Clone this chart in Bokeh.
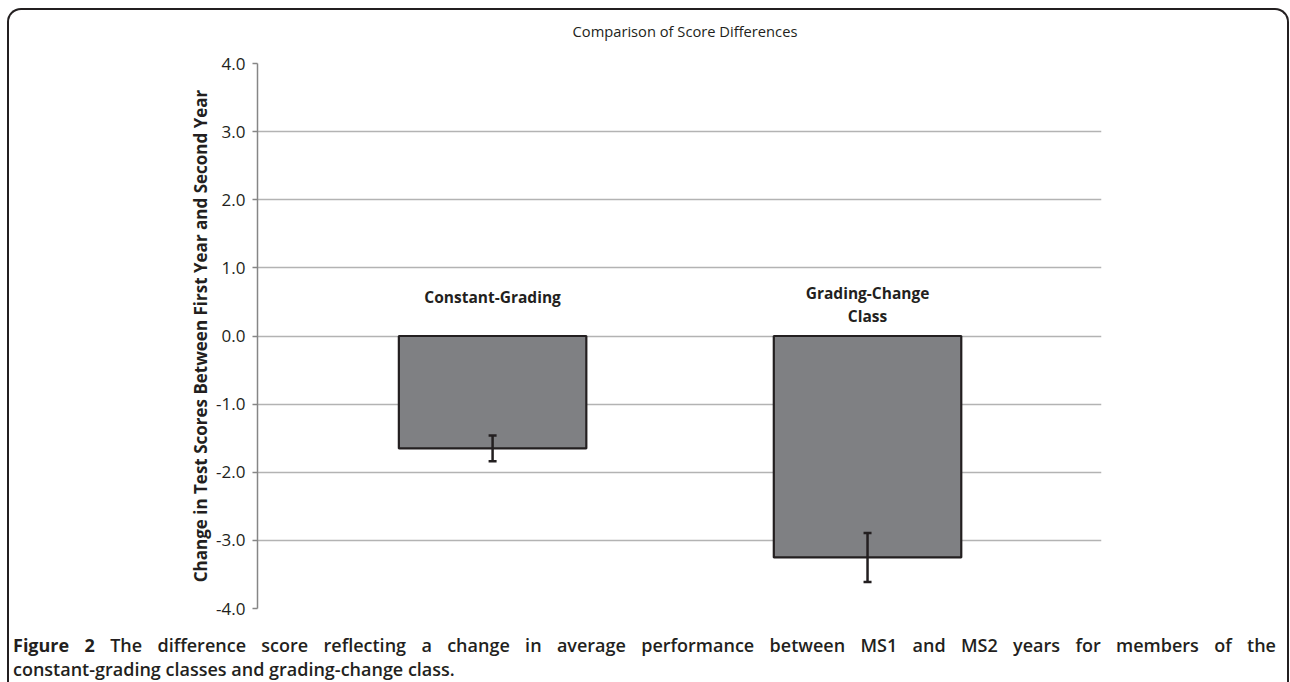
from bokeh.plotting import figure
from bokeh.models import (Range1d, FixedTicker, NumeralTickFormatter, Whisker,
                          ColumnDataSource, TeeHead, Div)
from bokeh.layouts import column
from bokeh.core.properties import value
from bokeh.embed import file_html
from bokeh.resources import INLINE

# ---- data ----
categories = ["Constant-Grading", "Grading-Change\nClass"]
positions = [1, 2]
means = [-1.65, -3.25]
errors = [0.19, 0.36]
y_ticks = [-4, -3, -2, -1, 0, 1, 2, 3, 4]
title_text = "Comparison of Score Differences"
y_label = "Change in Test Scores Between First Year and Second Year"

lower = [m - e for m, e in zip(means, errors)]
upper = [m + e for m, e in zip(means, errors)]
src = ColumnDataSource(dict(x=positions, top=means, lower=lower, upper=upper,
                            label=categories,
                            label_y=[0.57, 0.465]))

FONT = "Open Sans"
DARK = "#231f20"
X0, X1 = 0.373, 2.624

title_div = Div(
    text=('<div style="box-sizing:border-box;font-family:\'Open Sans\';font-size:14.7px;'
          'color:#231f20;line-height:20px;padding:11px 0 0 82px;width:1270px;'
          'text-align:center;">' + title_text + '</div>'),
    width=1278, height=43, margin=0)

p = figure(width=1270, height=567, output_backend="svg", toolbar_location=None,
           x_range=Range1d(X0, X1), y_range=Range1d(-4, 4),
           min_border_left=248, min_border_right=178, min_border_top=10,
           min_border_bottom=12)
p.outline_line_color = None
p.xaxis.visible = False
p.xgrid.visible = False

yax = p.yaxis[0]
yax.ticker = FixedTicker(ticks=y_ticks)
yax.formatter = NumeralTickFormatter(format="0.0")
yax.axis_line_color = "#868686"
yax.axis_line_width = 1.5
yax.major_tick_line_color = "#868686"
yax.major_tick_line_width = 1.5
yax.major_tick_out = 5
yax.major_tick_in = 0
yax.minor_tick_line_color = None
yax.major_label_standoff = 7
yax.major_label_text_font = FONT
yax.major_label_text_font_size = "17px"
yax.major_label_text_color = DARK
yax.axis_label = y_label
yax.axis_label_text_font = FONT
yax.axis_label_text_font_size = "17px"
yax.axis_label_text_font_style = "bold"
yax.axis_label_text_color = DARK
yax.axis_label_standoff = 1

p.ygrid.grid_line_color = "#b3b3b3"
p.ygrid.grid_line_width = 1.3

p.vbar(x="x", top="top", bottom=0, width=0.5, source=src,
       fill_color="#7f8083", line_color=DARK, line_width=2.2)

wh = Whisker(base="x", upper="upper", lower="lower", source=src,
             line_color=DARK, line_width=2.5, level="overlay",
             upper_head=TeeHead(size=8, line_color=DARK, line_width=2.5),
             lower_head=TeeHead(size=8, line_color=DARK, line_width=2.5))
p.add_layout(wh)

p.text(x="x", y="label_y", text="label", source=src,
       text_font=value(FONT), text_font_size="15.5px", text_font_style="bold",
       text_color=DARK, text_align="center", text_baseline="middle",
       text_line_height=1.05)

cap_html = (
    '<div style="box-sizing:border-box;font-family:\'Open Sans\';font-size:18px;font-weight:600;'
    'color:#231f20;line-height:24px;padding:13px 0 0 4px;width:1267px;">'
    '<div style="text-align:justify;text-align-last:justify;">'
    '<span style="font-weight:700;">Figure 2</span> The difference score reflecting a change '
    'in average performance between MS1 and MS2 years for members of the</div>'
    '<div>constant-grading classes and grading-change class.</div></div>'
)
cap = Div(text=cap_html, width=1278, height=62, margin=0)

layout = column(title_div, p, cap,
                styles={"border-top": "2px solid #231f20",
                        "border-left": "2px solid #231f20",
                        "border-right": "2px solid #231f20",
                        "border-top-left-radius": "14px",
                        "border-top-right-radius": "14px",
                        "margin-left": "7px",
                        "margin-top": "8px"})

open("out.html", "w").write(file_html(layout, INLINE))
